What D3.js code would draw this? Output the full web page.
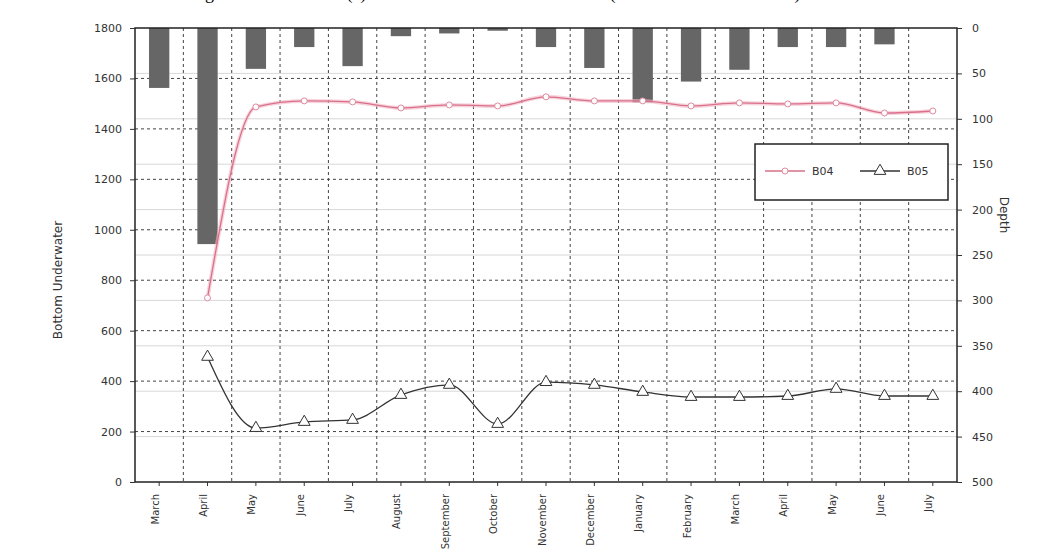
<!DOCTYPE html>
<html>
<head>
<meta charset="utf-8">
<script src="https://cdn.jsdelivr.net/npm/d3@7/dist/d3.min.js"></script>
<style>
  html, body { margin: 0; padding: 0; background: #fff; }
  svg { display: block; font-family: "Liberation Serif", "DejaVu Serif", serif; }
</style>
</head>
<body>
<svg id="chart" width="1060" height="557"></svg>
<script>
// Months on the x axis
const months = ["March", "April", "May", "June", "July", "August", "September", "October",
                "November", "December", "January", "February", "March", "April", "May", "June", "July"];

// Depth bars, hanging from the top on the right (reversed) axis
const depth = [66, 238, 45, 21, 42, 9, 6, 3, 21, 44, 82, 59, 46, 21, 21, 18, 0];

// Two well series on the left axis (null = no reading)
const seriesB04 = [null, 730, 1487, 1511, 1507, 1483, 1495, 1491, 1527, 1511, 1511, 1491, 1503, 1499, 1503, 1463, 1471];
const seriesB05 = [null, 496, 214, 238, 246, 345, 385, 230, 396, 385, 357, 337, 337, 341, 369, 341, 341];

const leftTicks = [0, 200, 400, 600, 800, 1000, 1200, 1400, 1600, 1800];
const rightTicks = [0, 50, 100, 150, 200, 250, 300, 350, 400, 450, 500];
const legendNames = ["B04", "B05"];

const svg = d3.select("#chart");
const m = { left: 135, right: 957, top: 28, bottom: 482 };

const idx = months.map((d, i) => i);
const x = d3.scaleBand().domain(idx).range([m.left, m.right]).paddingInner(0.58).paddingOuter(0.29);
const xc = d3.scaleBand().domain(idx).range([m.left, m.right]);
const yL = d3.scaleLinear().domain([0, 1800]).range([m.bottom, m.top]);
const yR = d3.scaleLinear().domain([0, 500]).range([m.top, m.bottom]);

// Title (sits at the top edge)
svg.append("text")
  .attr("x", 190).attr("y", -1)
  .attr("font-size", 18)
  .text("Figure 4. Time series (a) bottom elevation and well levels (March 2019 – June 2020)");

// Light grid at the right-axis ticks
svg.append("g").selectAll("line").data(rightTicks.slice(1, -1)).join("line")
  .attr("x1", m.left).attr("x2", m.right)
  .attr("y1", d => yR(d)).attr("y2", d => yR(d))
  .attr("stroke", "#d8d8d8").attr("stroke-width", 1);

// Dashed grid: horizontal at left ticks, vertical at month boundaries
svg.append("g").selectAll("line").data(leftTicks.slice(1, -1)).join("line")
  .attr("x1", m.left).attr("x2", m.right)
  .attr("y1", d => yL(d)).attr("y2", d => yL(d))
  .attr("stroke", "#444").attr("stroke-width", 1).attr("stroke-dasharray", "3,3");
svg.append("g").selectAll("line").data(idx.slice(1)).join("line")
  .attr("x1", d => xc(d)).attr("x2", d => xc(d))
  .attr("y1", m.top).attr("y2", m.bottom)
  .attr("stroke", "#444").attr("stroke-width", 1).attr("stroke-dasharray", "3,3");

// Bars
svg.append("g").selectAll("rect").data(depth).join("rect")
  .attr("x", (d, i) => x(i)).attr("width", x.bandwidth())
  .attr("y", yR(0)).attr("height", d => yR(d) - yR(0))
  .attr("fill", "#666");

const cx = i => xc(i) + xc.bandwidth() / 2;

// B04 line
const pts04 = seriesB04.map((v, i) => [i, v]).filter(d => d[1] != null);
svg.append("path")
  .attr("d", d3.line().x(d => cx(d[0])).y(d => yL(d[1])).curve(d3.curveMonotoneX)(pts04))
  .attr("fill", "none").attr("stroke", "#f2b6c4").attr("stroke-width", 4).attr("opacity", 0.6);
svg.append("path")
  .attr("d", d3.line().x(d => cx(d[0])).y(d => yL(d[1])).curve(d3.curveMonotoneX)(pts04))
  .attr("fill", "none").attr("stroke", "#d9708a").attr("stroke-width", 1.3);
svg.append("g").selectAll("circle").data(pts04).join("circle")
  .attr("cx", d => cx(d[0])).attr("cy", d => yL(d[1])).attr("r", 3)
  .attr("fill", "#fff").attr("stroke", "#e08aa0").attr("stroke-width", 1);

// B05 line
const pts05 = seriesB05.map((v, i) => [i, v]).filter(d => d[1] != null);
svg.append("path")
  .attr("d", d3.line().x(d => cx(d[0])).y(d => yL(d[1])).curve(d3.curveMonotoneX)(pts05))
  .attr("fill", "none").attr("stroke", "#333").attr("stroke-width", 1.3);
const tri = d3.symbol().type(d3.symbolTriangle).size(60);
svg.append("g").selectAll("path").data(pts05).join("path")
  .attr("d", tri)
  .attr("transform", d => `translate(${cx(d[0])},${yL(d[1])})`)
  .attr("fill", "#fff").attr("stroke", "#333").attr("stroke-width", 1);

// Plot frame
svg.append("rect")
  .attr("x", m.left).attr("y", m.top)
  .attr("width", m.right - m.left).attr("height", m.bottom - m.top)
  .attr("fill", "none").attr("stroke", "#222").attr("stroke-width", 1.5);

// Axes
const axL = svg.append("g").attr("transform", `translate(${m.left},0)`)
  .call(d3.axisLeft(yL).tickValues(leftTicks).tickFormat(d3.format("d")).tickSize(5).tickPadding(8));
const axR = svg.append("g").attr("transform", `translate(${m.right},0)`)
  .call(d3.axisRight(yR).tickValues(rightTicks).tickFormat(d3.format("d")).tickSize(5).tickPadding(10));
const axB = svg.append("g").attr("transform", `translate(0,${m.bottom})`)
  .call(d3.axisBottom(xc).tickFormat(i => months[i]).tickSize(4));
[axL, axR, axB].forEach(a => {
  a.select(".domain").remove();
  a.selectAll("text").attr("font-size", 11).attr("fill", "#333")
    .attr("font-family", "'DejaVu Sans', sans-serif");
  a.selectAll("line").attr("stroke", "#333");
});
axB.selectAll("text")
  .attr("font-size", 10)
  .attr("transform", "rotate(-90)")
  .attr("text-anchor", "end")
  .attr("x", -12).attr("y", -4).attr("dy", "0.35em");

// Axis titles
svg.append("text")
  .attr("transform", "translate(62,280) rotate(-90)")
  .attr("text-anchor", "middle").attr("font-size", 12).attr("fill", "#333")
  .attr("font-family", "'DejaVu Sans', sans-serif")
  .text("Bottom Underwater");
svg.append("text")
  .attr("transform", "translate(1000,215) rotate(90)")
  .attr("text-anchor", "middle").attr("font-size", 12).attr("fill", "#333")
  .attr("font-family", "'DejaVu Sans', sans-serif")
  .text("Depth");

// Legend
const lg = svg.append("g");
lg.append("rect").attr("x", 755).attr("y", 144).attr("width", 193).attr("height", 56)
  .attr("fill", "#fff").attr("stroke", "#222").attr("stroke-width", 1.5);
lg.append("line").attr("x1", 765).attr("x2", 805).attr("y1", 171).attr("y2", 171)
  .attr("stroke", "#d9708a").attr("stroke-width", 1.3);
lg.append("circle").attr("cx", 785).attr("cy", 171).attr("r", 3)
  .attr("fill", "#fff").attr("stroke", "#e08aa0");
lg.append("text").attr("x", 812).attr("y", 175).attr("font-size", 11).attr("fill", "#333")
  .attr("font-family", "'DejaVu Sans', sans-serif").text(legendNames[0]);
lg.append("line").attr("x1", 860).attr("x2", 900).attr("y1", 171).attr("y2", 171)
  .attr("stroke", "#333").attr("stroke-width", 1.3);
lg.append("path").attr("d", tri).attr("transform", "translate(880,171)")
  .attr("fill", "#fff").attr("stroke", "#333");
lg.append("text").attr("x", 907).attr("y", 175).attr("font-size", 11).attr("fill", "#333")
  .attr("font-family", "'DejaVu Sans', sans-serif").text(legendNames[1]);
</script>
</body>
</html>
